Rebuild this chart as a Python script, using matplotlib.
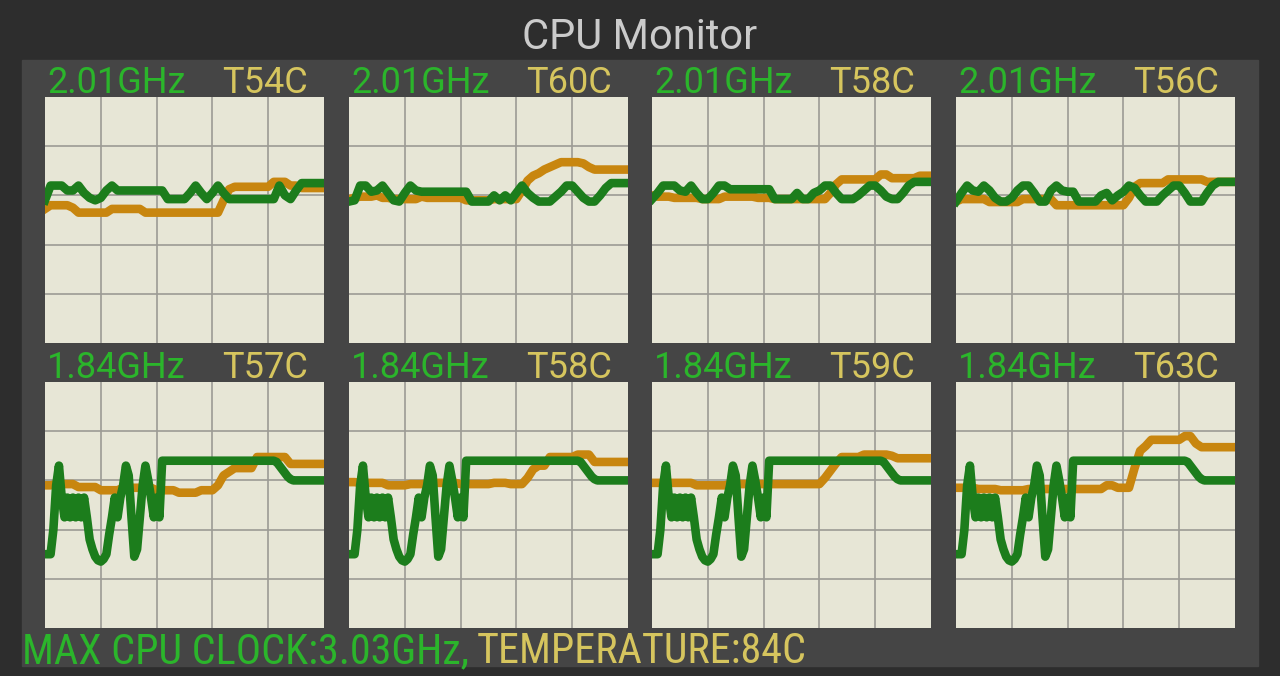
import matplotlib
matplotlib.use("Agg")
import matplotlib.pyplot as plt
from matplotlib.patches import Rectangle

W, H = 1280, 676

# per-core frequency readout and temperature
freq_labels = ["2.01GHz", "2.01GHz", "2.01GHz", "2.01GHz",
               "1.84GHz", "1.84GHz", "1.84GHz", "1.84GHz"]
temp_labels = ["T54C", "T60C", "T58C", "T56C", "T57C", "T58C", "T59C", "T63C"]

# clock history (green), % of graph height, 51 samples over the window
clock_1 = [58, 64, 64, 64, 62, 62, 64, 61, 59, 58,
           59, 62, 64, 62, 62, 62, 62, 62, 62, 62,
           62, 62, 58.5, 58.5, 58.5, 58.5, 61, 64, 61, 58.5,
           61, 64, 61, 58.5, 58.5, 58.5, 58.5, 58.5, 58.5, 58.5,
           58.5, 58.5, 64, 60, 58.5, 62, 65, 65, 65, 65,
           65]
clock_2 = [57.5, 58, 64, 64, 61.5, 62, 64, 61, 58, 57.5,
           61, 64, 62, 61.5, 61.5, 61.5, 61.5, 61.5, 61.5, 61.5,
           61.5, 61.5, 57.5, 57.5, 57.5, 57.5, 60, 58, 60, 58,
           61, 64, 61, 59, 57.5, 57.5, 57.5, 59.5, 61.5, 64,
           64, 61.5, 59, 57.5, 57.5, 60, 63, 65, 65, 65,
           65]
clock_3 = [58.5, 61, 64, 64, 64, 62, 61.5, 64, 61, 58.5,
           58.5, 61, 64, 64, 62.5, 62.5, 62.5, 62.5, 62.5, 62.5,
           62.5, 62.5, 58.5, 58.5, 58.5, 58.5, 61, 58.5, 58.5, 61,
           62, 64, 64, 61, 58.5, 58.5, 58.5, 60, 62, 64,
           64, 62, 59.5, 58.5, 58.5, 61, 64, 65.5, 65.5, 65.5,
           65.5]
clock_4 = [57.5, 61, 64, 62, 61.5, 64, 62, 59, 57.5, 57.5,
           59, 62, 64, 64, 61, 57.5, 57.5, 62, 64, 62,
           61.5, 61.5, 57.5, 57.5, 57.5, 57.5, 60, 61, 58, 60,
           61.5, 64, 63, 60, 57.5, 57.5, 57.5, 60, 62, 64,
           64, 61, 57.5, 57.5, 57.5, 61, 64, 65.5, 65.5, 65.5,
           65.5]
# little cluster clock, sampled twice as often (101 samples)
clock_little = [30, 30, 30, 40, 58, 66, 53, 45, 53, 45,
                53, 45, 53, 45, 53, 45, 36, 32, 29, 27.5,
                27, 28, 30, 38, 45, 53, 45, 53, 58, 66,
                62, 45, 29, 32, 45, 58, 66, 60, 53, 45,
                53, 45, 68, 68, 68, 68, 68, 68, 68, 68,
                68, 68, 68, 68, 68, 68, 68, 68, 68, 68,
                68, 68, 68, 68, 68, 68, 68, 68, 68, 68,
                68, 68, 68, 68, 68, 68, 68, 68, 68, 68,
                68, 68, 68, 67.5, 66, 64.5, 63, 61.5, 60.5, 60,
                60, 60, 60, 60, 60, 60, 60, 60, 60, 60,
                60]

# temperature history (orange)
temp_1 = [54.5, 56, 56, 56, 56, 55, 53, 53, 53, 53,
          53, 53, 54.5, 54.5, 54.5, 54.5, 54.5, 54.5, 53, 53,
          53, 53, 53, 53, 53, 53, 53, 53, 53, 53,
          53, 53, 58, 62.5, 63.5, 63.5, 63.5, 63.5, 63.5, 63.5,
          63.5, 65.5, 65.5, 65.5, 64, 64, 63, 63, 63, 63,
          63]
temp_2 = [58.5, 59, 59.5, 59.5, 59.5, 60, 59, 59, 58.5, 58.5,
          58.5, 58.5, 58.5, 59.5, 59, 59, 59, 59, 59, 59,
          59, 58, 58, 58, 58, 58, 58.5, 58.5, 58.5, 58.5,
          58.5, 62, 66, 68, 69, 70.5, 71.5, 72.5, 73.5, 73.5,
          73.5, 73.5, 73, 71.5, 70.5, 70.5, 70.5, 70.5, 70.5, 70.5,
          70.5]
temp_3 = [60, 59.5, 59.5, 59.5, 59, 59, 59, 59, 59, 58.5,
          58.5, 58.5, 58.5, 59.5, 59.5, 59.5, 59.5, 59.5, 59.5, 59,
          59, 59, 58.5, 58.5, 58.5, 58.5, 58.5, 58.5, 58.5, 58.5,
          58.5, 58.5, 61, 64.5, 66.5, 66.5, 66.5, 66.5, 66.5, 66.5,
          66.5, 68.5, 68.5, 67, 67, 67, 67, 67, 68, 68,
          68]
temp_4 = [57.5, 58.5, 58.5, 58.5, 58.5, 58.5, 57.3, 57.3, 57.3, 57.3,
          57.3, 57.3, 58.5, 58.5, 58.5, 58.5, 58.5, 58.5, 56, 56,
          56, 56, 56, 56, 56, 56, 56, 56, 56, 56,
          56, 59, 63.5, 65, 65, 65, 65, 65, 66.5, 66.5,
          66.5, 66.5, 66.5, 66.5, 66.5, 65.5, 65.5, 65.5, 65.5, 65.5,
          65.5]
temp_5 = [58, 58, 58.5, 58.5, 58.5, 58.5, 57.3, 57.3, 57.3, 57.3,
          56, 56, 56, 56, 57, 57, 57, 57, 57, 57,
          56, 56, 56, 56, 55, 55, 55, 55, 56, 56,
          56, 58, 62, 63.5, 65, 65, 65, 65, 69.5, 69.5,
          69.5, 69.5, 69.5, 69.5, 66.7, 66.7, 66.7, 66.7, 66.7, 66.7,
          66.7]
temp_6 = [59.3, 59.3, 59, 59, 59, 59, 59, 58, 58, 58,
          58, 58.5, 58.5, 58.5, 58.5, 59, 59, 59, 59, 59,
          58.5, 58.5, 58.5, 58.5, 58.5, 58.5, 59, 59, 59, 58.5,
          58.5, 58.5, 61, 64.5, 66, 66, 69.5, 69.5, 69.5, 69.5,
          69.5, 70.5, 70.5, 70.5, 67.5, 67.5, 67.5, 67.5, 67.5, 67.5,
          67.5]
temp_7 = [59, 59, 59, 59, 59, 59, 59, 59, 58, 58,
          58, 58, 58, 58, 58.5, 58.5, 58.5, 58.5, 58.5, 58.5,
          58.5, 58.5, 58.5, 58.5, 58.5, 58.5, 58.5, 58.5, 58.5, 58.5,
          58.5, 61, 64, 67, 69.5, 69.5, 69.5, 69.5, 70.5, 70.5,
          70.5, 70.5, 70.5, 70, 69, 69, 69, 69, 69, 69,
          69]
temp_8 = [57, 57, 57, 57, 56.5, 56.5, 56.5, 56.5, 56, 56,
          56, 56, 56, 56.5, 56.5, 56.5, 56.5, 56.5, 56.5, 56.5,
          56.5, 56.5, 56.5, 56.5, 56.5, 56.5, 56.5, 58, 58, 57,
          57, 57, 65, 72, 74, 76.5, 76.5, 76.5, 76.5, 76.5,
          76.5, 78, 78, 75, 73.5, 73.5, 73.5, 73.5, 73.5, 73.5,
          73.5]

clocks = [clock_1, clock_2, clock_3, clock_4,
          clock_little, clock_little, clock_little, clock_little]
temps = [temp_1, temp_2, temp_3, temp_4, temp_5, temp_6, temp_7, temp_8]

BG = "#2d2d2d"
PANEL = "#454545"
PLOT_BG = "#e7e6d6"
GRID = "#9c9b95"
LINE_GREEN = "#1c7d1c"
LINE_ORANGE = "#c8860f"
TEXT_GREEN = "#2bb52b"
TEXT_YELLOW = "#d6c55e"
SPAN = 50  # width of the history window

plt.rcParams['font.family'] = ['Roboto', 'DejaVu Sans']

fig = plt.figure(figsize=(W / 100, H / 100), dpi=100, facecolor=BG)

def fx(px):
    return px / W

def fy(py):
    return 1 - py / H

def times(series):
    # spread the samples evenly over the window
    n = len(series)
    return [k * SPAN / (n - 1) for k in range(n)]

# inner dark panel (behind the graphs)
fig.patches.append(Rectangle((fx(22), fy(666)), fx(1258 - 22), (666 - 60) / H,
                             transform=fig.transFigure, color=PANEL, zorder=-5))

fig.text(fx(640), fy(49), "CPU Monitor", color="#cbcbcb", fontsize=30,
         ha="center", va="baseline")

col_left = [45, 349, 652, 956]
row_top = [97, 382]
pw, ph = 279, 246

for i in range(8):
    r, c = divmod(i, 4)
    left, top = col_left[c], row_top[r]
    ax = fig.add_axes([fx(left), fy(top + ph), fx(pw), ph / H])
    ax.set_zorder(2)
    ax.set_facecolor(PLOT_BG)
    ax.plot(times(temps[i]), temps[i], color=LINE_ORANGE, lw=6.2,
            solid_joinstyle='round', zorder=3)
    ax.plot(times(clocks[i]), clocks[i], color=LINE_GREEN, lw=6.2,
            solid_joinstyle='round', zorder=4)
    ax.set_xlim(0, SPAN)
    ax.set_ylim(0, 100)
    ax.set_xticks([10, 20, 30, 40])
    ax.set_yticks([20, 40, 60, 80])
    ax.set_axisbelow(True)
    ax.grid(True, color=GRID, lw=1.2)
    ax.tick_params(length=0, labelbottom=False, labelleft=False)
    for s in ax.spines.values():
        s.set_visible(False)

    base = top - 4
    fig.text(fx(left + 2), fy(base), freq_labels[i], color=TEXT_GREEN,
             fontsize=26, ha="left", va="baseline")
    fig.text(fx(left + pw - 16), fy(base), temp_labels[i], color=TEXT_YELLOW,
             fontsize=26, ha="right", va="baseline")

# footer, sized so the line spans the same width as the original
foot_font = ['Roboto Condensed', 'Roboto', 'DejaVu Sans']
t1 = fig.text(fx(22), fy(663), "MAX CPU CLOCK:3.03GHz,", color=TEXT_GREEN,
              fontsize=28, family=foot_font, ha="left", va="baseline")
t2 = fig.text(0, fy(663), "TEMPERATURE:84C", color=TEXT_YELLOW,
              fontsize=28, family=foot_font, ha="left", va="baseline")
fig.canvas.draw()
r = fig.canvas.get_renderer()
w1 = t1.get_window_extent(r).width
w2 = t2.get_window_extent(r).width
gap = 8
size = min(31, 28 * (807 - 22 - gap) / (w1 + w2))
t1.set_fontsize(size)
t2.set_fontsize(size)
fig.canvas.draw()
bb = t1.get_window_extent(r)
t2.set_x((bb.x1 + gap) / W)

fig.savefig("out.png", dpi=100, facecolor=BG)
